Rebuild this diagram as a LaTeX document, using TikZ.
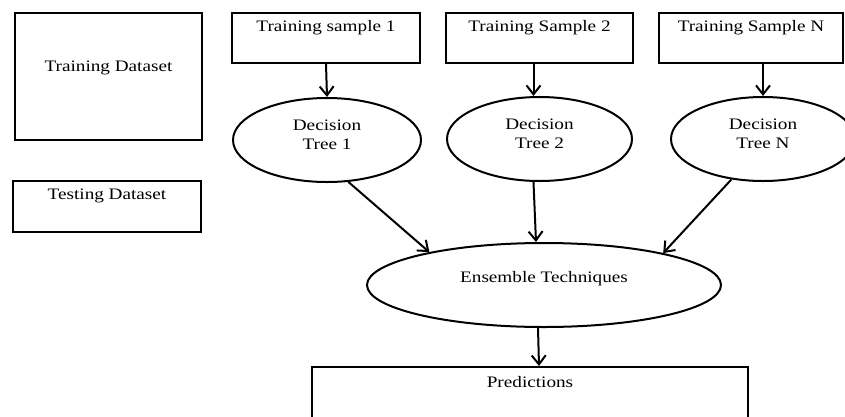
\documentclass[tikz,border=0pt]{standalone}
\usepackage{fontspec}
\setmainfont{Liberation Serif}[FakeStretch=1.2]
\usetikzlibrary{shapes.geometric,arrows.meta}
\begin{document}
\begin{tikzpicture}[x=1pt,y=-1pt,
  every node/.style={font=\fontsize{16}{19}\selectfont, inner sep=0pt, line width=2pt},
  box/.style={draw, rectangle},
  oval/.style={draw, ellipse, align=center},
  lab/.style={anchor=center, inner sep=0pt},
  arr/.style={draw, line width=2pt, -{Straight Barb[length=9pt,width=14pt]}}]
\useasboundingbox (0,0) rectangle (845,416);
\clip (0,0) rectangle (845,416);
\node[box, minimum width=187pt, minimum height=127pt,
      label={[lab,yshift=-56pt]north:Training Dataset}] (trd) at (108.5,76.5) {};
\node[box, minimum width=188pt, minimum height=51pt,
      label={[lab,yshift=-16pt]north:Testing Dataset}] (ted) at (107,206.5) {};
\node[box, minimum width=188pt, minimum height=50pt,
      label={[lab,yshift=-16pt]north:Training sample 1}] (ts1) at (326,38) {};
\node[box, minimum width=187pt, minimum height=50pt,
      label={[lab,yshift=-16pt]north:Training Sample 2}] (ts2) at (539.5,38) {};
\node[box, minimum width=184pt, minimum height=50pt,
      label={[lab,yshift=-16pt]north:Training Sample N}] (tsN) at (751,38) {};
\node[oval, minimum width=188pt, minimum height=84pt, text depth=10pt] (dt1) at (327,140) {Decision\\Tree 1};
\node[oval, minimum width=185pt, minimum height=84pt, text depth=10pt] (dt2) at (539.5,139) {Decision\\Tree 2};
\node[oval, minimum width=184pt, minimum height=84pt, text depth=10pt] (dtN) at (763,139) {Decision\\Tree N};
\node[oval, minimum width=354pt, minimum height=84pt, text height=11pt, text depth=16pt] (ens) at (544,285) {Ensemble Techniques};
\node[box, minimum width=436pt, minimum height=63pt,
      label={[lab,yshift=-16pt]north:Predictions}] (pred) at (530,398.5) {};
\draw[arr] (ts1.south) -- (dt1.north);
\draw[arr] ([xshift=-6pt]ts2.south) -- ([xshift=-6pt]dt2.north);
\draw[arr] ([xshift=12pt]tsN.south) -- (dtN.north);
\draw[arr] (dt1.-63) -- (ens.164);
\draw[arr] ([xshift=-6pt]dt2.south) -- ([xshift=-8pt]ens.north);
\draw[arr] (dtN.-128) -- (ens.15);
\draw[arr] ([xshift=-6pt]ens.south) -- ([xshift=9pt]pred.north);
\end{tikzpicture}
\end{document}
